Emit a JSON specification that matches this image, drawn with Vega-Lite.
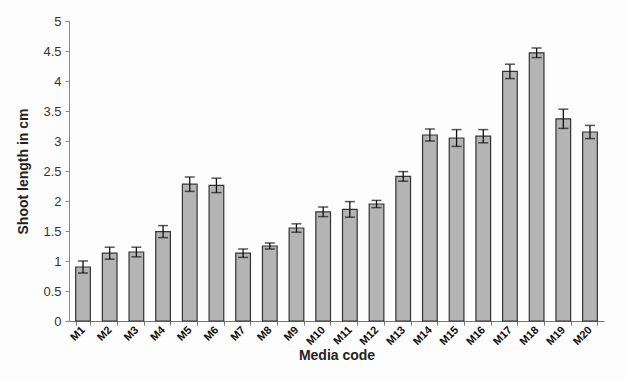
{
  "$schema": "https://vega.github.io/schema/vega-lite/v6.json",
  "width": 535,
  "height": 300,
  "autosize": "none",
  "padding": {"left": 69, "top": 21, "right": 23, "bottom": 60},
  "background": "#fdfdfd",
  "config": {
    "view": {"stroke": null},
    "font": "Liberation Sans",
    "axisBand": {"labelAngle": -45}
  },
  "data": {"values": [
    {"code": "M1", "mean": 0.9, "lo": 0.8, "hi": 1.0},
    {"code": "M2", "mean": 1.13, "lo": 1.03, "hi": 1.23},
    {"code": "M3", "mean": 1.15, "lo": 1.07, "hi": 1.23},
    {"code": "M4", "mean": 1.49, "lo": 1.39, "hi": 1.59},
    {"code": "M5", "mean": 2.28, "lo": 2.16, "hi": 2.4},
    {"code": "M6", "mean": 2.26, "lo": 2.14, "hi": 2.38},
    {"code": "M7", "mean": 1.13, "lo": 1.06, "hi": 1.2},
    {"code": "M8", "mean": 1.25, "lo": 1.2, "hi": 1.3},
    {"code": "M9", "mean": 1.55, "lo": 1.48, "hi": 1.62},
    {"code": "M10", "mean": 1.82, "lo": 1.74, "hi": 1.9},
    {"code": "M11", "mean": 1.86, "lo": 1.73, "hi": 1.99},
    {"code": "M12", "mean": 1.95, "lo": 1.89, "hi": 2.01},
    {"code": "M13", "mean": 2.41, "lo": 2.33, "hi": 2.49},
    {"code": "M14", "mean": 3.1, "lo": 3.0, "hi": 3.2},
    {"code": "M15", "mean": 3.05, "lo": 2.91, "hi": 3.19},
    {"code": "M16", "mean": 3.08, "lo": 2.97, "hi": 3.19},
    {"code": "M17", "mean": 4.16, "lo": 4.04, "hi": 4.28},
    {"code": "M18", "mean": 4.47, "lo": 4.39, "hi": 4.55},
    {"code": "M19", "mean": 3.37, "lo": 3.21, "hi": 3.53},
    {"code": "M20", "mean": 3.15, "lo": 3.04, "hi": 3.26}
  ]},
  "layer": [
    {
      "mark": {"type": "bar", "color": "#b4b4b4", "stroke": "#333", "strokeWidth": 1.2},
      "encoding": {
        "x": {
          "field": "code", "type": "nominal", "sort": null,
          "scale": {"paddingInner": 0.45, "paddingOuter": 0.25},
          "axis": {
            "title": "Media code", "titleFontSize": 14, "titleFontWeight": "bold", "titleColor": "#222", "titlePadding": 2,
            "labelAngle": {"expr": "-45"}, "labelAlign": "right", "labelBaseline": "middle",
            "labelFontSize": 11, "labelFontWeight": "bold", "labelColor": "#111",
            "domainColor": "#777", "tickColor": "#777", "tickSize": 4, "tickBand": "extent",
            "labelPadding": 3
          }
        },
        "y": {
          "field": "mean", "type": "quantitative",
          "scale": {"domain": [0, 5]},
          "axis": {
            "title": "Shoot length in cm",
            "tickCount": 10, "format": "~g",
            "titleFontSize": 14, "titleFontWeight": "bold", "titleColor": "#222",
            "grid": false, "labelFontSize": 13, "labelColor": "#333",
            "domainColor": "#888", "tickColor": "#888", "tickSize": 4,
            "titlePadding": 12, "labelPadding": 4
          }
        }
      }
    },
    {
      "mark": {"type": "rule", "color": "#111", "strokeWidth": 1.3},
      "encoding": {
        "x": {"field": "code", "type": "nominal", "sort": null},
        "y": {"field": "lo", "type": "quantitative"},
        "y2": {"field": "hi"}
      }
    },
    {
      "mark": {"type": "tick", "color": "#111", "size": 10, "thickness": 1.5},
      "encoding": {
        "x": {"field": "code", "type": "nominal", "sort": null},
        "y": {"field": "lo", "type": "quantitative"}
      }
    },
    {
      "mark": {"type": "tick", "color": "#111", "size": 10, "thickness": 1.5},
      "encoding": {
        "x": {"field": "code", "type": "nominal", "sort": null},
        "y": {"field": "hi", "type": "quantitative"}
      }
    }
  ],
  "resolve": {"axis": {"x": "shared", "y": "shared"}}
}
